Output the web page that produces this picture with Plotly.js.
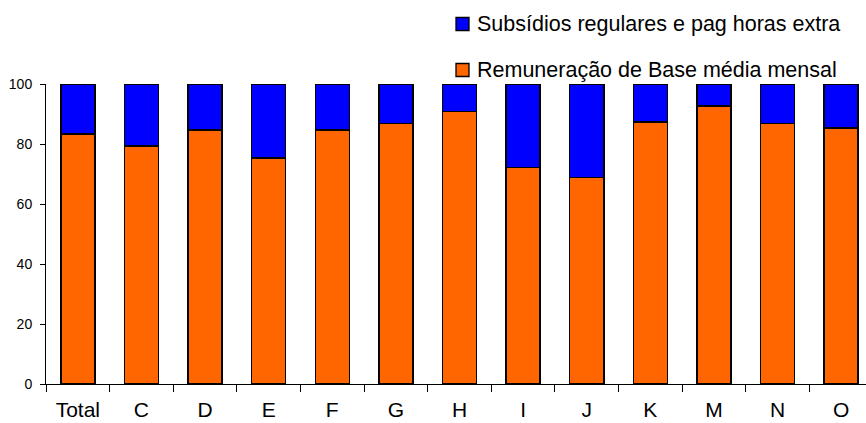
<!DOCTYPE html>
<html><head><meta charset="utf-8">
<script src="https://cdn.plot.ly/plotly-3.0.1.min.js"></script>
<style>html,body{margin:0;padding:0;background:#fff}#chart{width:866px;height:423px}</style>
</head><body><div id="chart"></div>
<script>
const categories = ["Total","C","D","E","F","G","H","I","J","K","M","N","O"];
const baseValues = [83.3,79.4,84.7,75.3,84.7,86.9,90.8,72.1,68.8,87.4,92.7,86.8,85.4];
const subsidyValues = baseValues.map(v => +(100 - v).toFixed(1));
const seriesNames = ["Remuneração de Base média mensal","Subsídios regulares e pag horas extra"];
const seriesColors = ["#FF6600","#0000FF"];
const yTicks = [0,20,40,60,80,100];

const traces = [
  {type:"bar", x:categories, y:baseValues, name:seriesNames[0],
   marker:{color:seriesColors[0], line:{color:"#000", width:1.5}}},
  {type:"bar", x:categories, y:subsidyValues, name:seriesNames[1],
   marker:{color:seriesColors[1], line:{color:"#000", width:1.5}}}
];

// custom legend (pixel positions converted to paper coords)
const L = 46, PW = 820, B = 384, PH = 300;
const px = v => (v - L) / PW, py = v => (B - v) / PH;
const legendRows = [{name:seriesNames[1], color:seriesColors[1], cy:24},
                    {name:seriesNames[0], color:seriesColors[0], cy:70}];
const shapes = [], annotations = [];
legendRows.forEach(r => {
  shapes.push({type:"rect", xref:"paper", yref:"paper", x0:px(456), x1:px(469),
    y0:py(r.cy+6.5), y1:py(r.cy-6.5), fillcolor:r.color, line:{color:"#000", width:1.3}});
  annotations.push({xref:"paper", yref:"paper", x:px(475), y:py(r.cy), xanchor:"left", yanchor:"middle",
    text:r.name, showarrow:false, font:{size:21.5, color:"#000"}});
});

const layout = {
  width:866, height:423,
  margin:{l:L, r:0, t:84, b:39},
  barmode:"stack", bargap:0.465,
  font:{family:"Liberation Sans, Arial, sans-serif", color:"#000"},
  paper_bgcolor:"#fff", plot_bgcolor:"#fff",
  showlegend:false,
  xaxis:{range:[-0.5,12.39], showline:true, linecolor:"#000", linewidth:1,
    ticks:"outside", tickson:"boundaries", ticklen:7, tickcolor:"#000",
    tickfont:{size:21}, ticklabelstandoff:7, showgrid:false, fixedrange:true},
  yaxis:{range:[0,100], tickvals:yTicks, showline:true, linecolor:"#000", linewidth:1,
    ticks:"outside", ticklen:5, tickcolor:"#000", tickfont:{size:14}, ticklabelstandoff:5,
    showgrid:false, zeroline:false, fixedrange:true},
  shapes:shapes, annotations:annotations
};
Plotly.newPlot("chart", traces, layout, {displayModeBar:false, staticPlot:true});
</script></body></html>
